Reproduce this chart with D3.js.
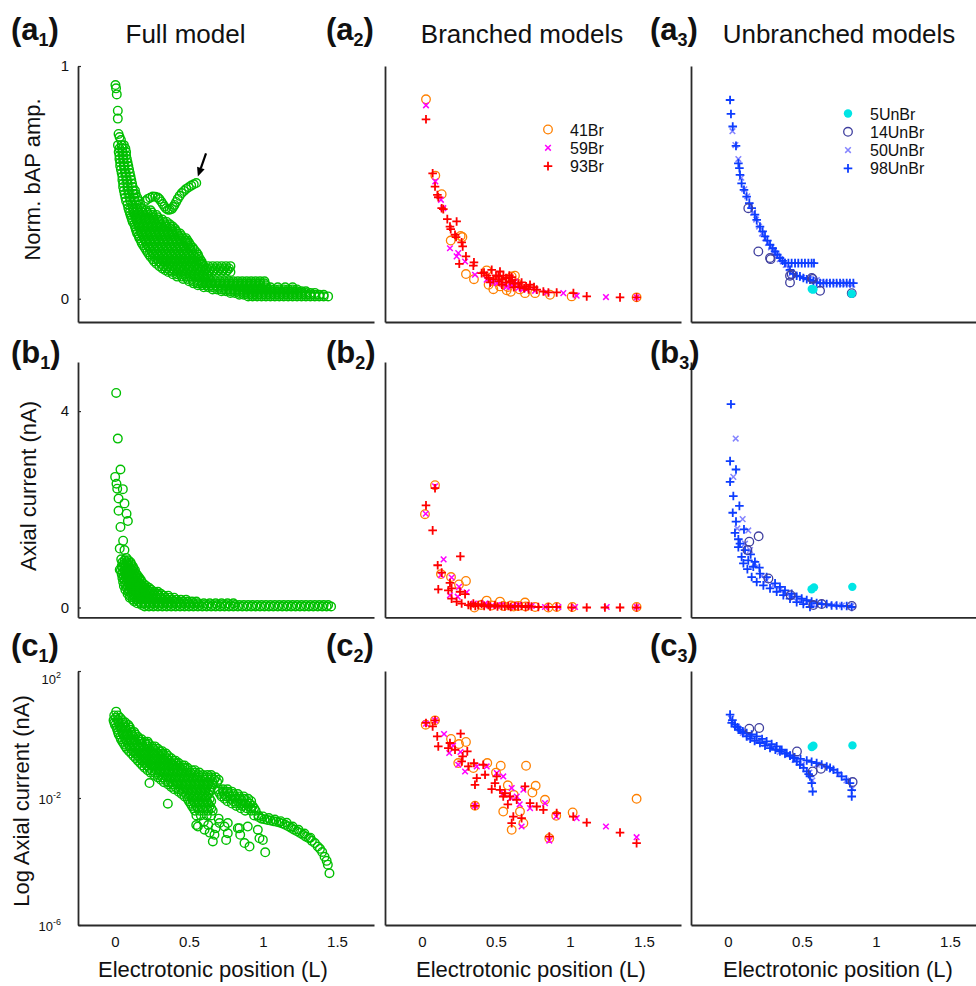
<!DOCTYPE html>
<html><head><meta charset="utf-8">
<script src="https://cdn.jsdelivr.net/npm/d3@7"></script>
<style>
body{margin:0;background:#fff}
text{font-family:"Liberation Sans",Arial,Helvetica,sans-serif;fill:#111}
.ax .domain{stroke:#2a2a2a;stroke-width:1.8}
.ax .tick line{stroke:#2a2a2a;stroke-width:1.2}
.ax .tick text{font-size:15px;fill:#111;font-family:"Liberation Sans",Arial,sans-serif}
</style></head>
<body><svg id="c" width="976" height="986"></svg>
<script>
// ---------------- DATA (electrotonic position L, value) ----------------
// Full model, normalized bAP amplitude
const fullAmpTop = [[.003,.918],[.007,.904],[.012,.878],[.019,.808],[.019,.774],[.024,.708],[.031,.695],[.04,.682]];
const fullAmpBranch = [[.205,.42],[.222,.429],[.238,.434],[.255,.439],[.272,.438],[.289,.435],[.3,.428],[.312,.418],[.323,.407],[.334,.396],[.345,.388],[.357,.382],[.37,.382],[.384,.386],[.393,.394],[.402,.403],[.413,.416],[.424,.429],[.437,.442],[.451,.454],[.466,.463],[.481,.472],[.498,.479],[.515,.486],[.532,.492],[.549,.497]];
// rows: [amplitude, list of L]
const fullAmpRows = [
 [.66,[.02,.045,.06]],[.645,[.03,.05,.07]],[.63,[.025,.05,.075]],[.615,[.03,.055,.075]],[.60,[.03,.055,.08]],
 [.585,[.035,.06,.085]],[.57,[.035,.06,.09]],[.555,[.04,.065,.095]],[.54,[.045,.07,.1]],[.525,[.05,.075,.105]],
 [.51,[.05,.08,.11]],[.495,[.055,.085,.115]],[.48,[.055,.085,.12]],[.465,[.06,.09,.12,.135]],
 [.45,[.065,.095,.125,.14]],[.435,[.07,.1,.13,.15]],[.42,[.075,.105,.135,.16]],[.405,[.085,.115,.145,.17]],
 [.39,[.09,.12,.15,.18]],[.38,[.095,.125,.155,.185,.21,.24]],[.37,[.1,.13,.16,.19,.22,.25]],
 [.36,[.105,.135,.165,.195,.225,.255,.28]],[.35,[.11,.14,.17,.2,.23,.26,.29]],
 [.34,[.115,.145,.175,.205,.235,.265,.295,.32]],[.33,[.12,.15,.18,.21,.24,.27,.3,.33,.35]],
 [.32,[.13,.16,.19,.22,.25,.28,.31,.34,.37]],[.31,[.135,.165,.195,.225,.255,.285,.315,.345,.375,.39]],
 [.30,[.14,.17,.2,.23,.26,.29,.32,.35,.38,.405]],[.29,[.145,.175,.205,.235,.265,.295,.325,.355,.385,.415]],
 [.28,[.15,.18,.21,.24,.27,.3,.33,.36,.39,.42,.44]],[.27,[.16,.19,.22,.25,.28,.31,.34,.37,.4,.43,.45]],
 [.26,[.165,.195,.225,.255,.285,.315,.345,.375,.405,.435,.46,.48]],
 [.25,[.175,.205,.235,.265,.295,.325,.355,.385,.415,.445,.475,.49]],
 [.24,[.18,.21,.24,.27,.3,.33,.36,.39,.42,.45,.48,.5]],
 [.23,[.19,.22,.25,.28,.31,.34,.37,.4,.43,.46,.49,.51]],
 [.22,[.2,.23,.26,.29,.32,.35,.38,.41,.44,.47,.5,.525]],
 [.21,[.21,.24,.27,.3,.33,.36,.39,.42,.45,.48,.51,.535]],
 [.20,[.22,.25,.28,.31,.34,.37,.4,.43,.46,.49,.52,.55]],
 [.19,[.23,.26,.29,.32,.35,.38,.41,.44,.47,.5,.53,.56]],
 [.18,[.24,.27,.3,.33,.36,.39,.42,.45,.48,.51,.54,.565]],
 [.17,[.255,.285,.315,.345,.375,.405,.435,.465,.495,.525,.555,.575]],
 [.16,[.265,.295,.325,.355,.385,.415,.445,.475,.505,.535,.565,.585]],
 [.15,[.28,.31,.34,.37,.4,.43,.46,.49,.52,.55,.58,.59]],
 [.14,[.3,.33,.36,.39,.42,.45,.48,.51,.54,.57,.6,.63,.66,.69,.72,.75,.78]],
 [.13,[.32,.35,.38,.41,.44,.47,.5,.53,.56,.59,.62,.65,.68,.71,.74,.77]],
 [.122,[.34,.37,.4,.43,.46,.49,.52,.55,.58,.61,.64,.67,.7,.73,.76]],
 [.115,[.36,.39,.42,.45,.48,.51,.54,.57,.6,.63,.66,.69,.72,.75,.78]],
 [.105,[.39,.42,.45,.48,.51,.54,.57,.6,.62]],
 [.095,[.42,.45,.48,.51,.54,.57,.6,.63]],
 [.085,[.46,.49,.52,.55,.58,.61,.64]],
 [.075,[.5,.53,.56,.59,.62,.65,.68,.71,.74,.77,.8,.83,.86,.89,.92,.95,.98,1.01]],
 [.066,[.53,.56,.59,.62,.65,.68,.71,.74,.77,.8,.83,.86,.89,.92,.95,.98,1.01]],
 [.058,[.56,.59,.62,.65,.68,.71,.74,.77,.8,.83,.86,.89,.92,.95,.98,1.02]],
 [.049,[.6,.63,.66,.69,.72,.75,.78,.81,.84,.87,.9,.93,.96,.99,1.02,1.05,1.1,1.15,1.2]],
 [.04,[.66,.69,.72,.75,.78,.81,.84,.87,.9,.93,.96,.99,1.02,1.05,1.08,1.11,1.14,1.17,1.2,1.23]],
 [.032,[.72,.75,.78,.81,.84,.87,.9,.93,.96,.99,1.02,1.05,1.08,1.11,1.14,1.17,1.2,1.23,1.26,1.29]],
 [.025,[.78,.81,.84,.87,.9,.93,.96,.99,1.02,1.05,1.08,1.11,1.14,1.17,1.2,1.23,1.26,1.29,1.32,1.35]],
 [.017,[.84,.87,.9,.93,.96,.99,1.02,1.05,1.08,1.11,1.14,1.17,1.2,1.23,1.26,1.29,1.32,1.35,1.38,1.41]],
 [.01,[.9,.93,.96,.99,1.02,1.05,1.08,1.11,1.14,1.17,1.2,1.23,1.26,1.29,1.32,1.35,1.38,1.41,1.44]]
];
const arrowFrom = [.615,.625], arrowTo = [.56,.525];

// Full model, axial current (nA)
const fullIaxTop = [[.008,4.37],[.019,3.44],[.037,2.81],[.001,2.66],[.01,2.52],[.015,2.42],[.053,2.41],[.024,2.22],[.064,2.12],[.024,1.97],[.078,1.91],[.087,1.76],[.037,1.64],[.055,1.36],[.032,1.2],[.064,1.17],[.042,.98],[.076,1.01],[.032,.77],[.087,.86]];
const fullIaxRows = [
 [.96,[.065,.09]],[.92,[.05,.08,.105]],[.88,[.06,.085,.11]],[.84,[.045,.07,.095,.12]],[.8,[.055,.08,.105,.125]],
 [.76,[.04,.065,.09,.115,.135]],[.72,[.055,.08,.105,.13]],[.68,[.045,.07,.095,.12,.145]],
 [.64,[.06,.085,.11,.135,.155]],[.6,[.05,.075,.1,.125,.15,.165]],[.56,[.065,.09,.115,.14,.165,.175]],
 [.52,[.055,.08,.105,.13,.155,.18]],[.48,[.07,.095,.12,.145,.17,.195]],[.44,[.06,.085,.11,.135,.16,.185,.21]],
 [.4,[.08,.105,.13,.155,.18,.205,.23]],[.36,[.07,.095,.12,.145,.17,.195,.22,.245]],
 [.32,[.09,.115,.14,.165,.19,.215,.24,.265,.29]],[.28,[.085,.11,.135,.16,.185,.21,.235,.26,.285,.31]],
 [.24,[.1,.125,.15,.175,.2,.225,.25,.275,.3,.33,.36]],[.2,[.1,.13,.16,.19,.22,.25,.28,.31,.34,.37,.4]],
 [.16,[.12,.145,.175,.205,.235,.265,.295,.325,.355,.385,.415,.445,.48]],
 [.12,[.13,.16,.19,.22,.25,.28,.31,.34,.37,.4,.43,.46,.49,.52,.55]],
 [.085,[.15,.175,.2,.23,.26,.29,.32,.35,.38,.41,.44,.47,.5,.53,.56,.6,.64,.68,.72,.76,.8]],
 [.05,[.18,.21,.24,.27,.3,.33,.36,.39,.42,.45,.48,.51,.54,.57,.6,.63,.66,.69,.72,.75,.78,.81,.84,.87,.9,.93,.96,.99,1.02,1.05,1.08,1.11,1.14,1.17,1.2,1.23,1.26,1.29,1.32,1.35,1.38,1.41,1.44]],
 [.02,[.2,.23,.26,.29,.32,.35,.38,.41,.44,.47,.5,.53,.56,.59,.62,.65,.68,.71,.74,.77,.8,.83,.86,.89,.92,.95,.98,1.01,1.04,1.07,1.1,1.13,1.16,1.19,1.22,1.25,1.28,1.31,1.34,1.37,1.4,1.43,1.46]]
];

// Full model, axial current on log scale: [log10(nA), list of L]
const fullLogRows = [
 [.72,[.008]],[.6,[-.005,.02]],[.525,[.005,.035]],[.45,[-.01,.02,.05]],[.375,[-.005,.025,.055,.07]],
 [.3,[0,.03,.06,.09]],[.225,[.01,.04,.07,.1]],[.15,[.015,.045,.075,.105]],[.075,[.02,.05,.08,.11,.13]],
 [0,[.025,.055,.085,.115,.14]],[-.075,[.035,.065,.095,.125,.155]],[-.15,[.04,.07,.1,.13,.16,.18]],
 [-.225,[.05,.08,.11,.14,.17,.2,.22]],[-.3,[.06,.09,.12,.15,.18,.21,.23]],
 [-.375,[.07,.1,.13,.16,.19,.22,.25,.27]],[-.45,[.08,.11,.14,.17,.2,.23,.26,.29]],
 [-.525,[.095,.125,.155,.185,.215,.245,.275,.305,.32]],[-.6,[.11,.14,.17,.2,.23,.26,.29,.32,.345]],
 [-.675,[.125,.155,.185,.215,.245,.275,.305,.335,.36]],[-.75,[.14,.17,.2,.23,.26,.29,.32,.35,.38]],
 [-.825,[.155,.185,.215,.245,.275,.305,.335,.365,.395,.41]],[-.9,[.17,.2,.23,.26,.29,.32,.35,.38,.41,.43]],
 [-.975,[.185,.215,.245,.275,.305,.335,.365,.395,.425,.455,.47]],
 [-1.05,[.2,.23,.26,.29,.32,.35,.38,.41,.44,.47,.49]],
 [-1.125,[.22,.25,.28,.31,.34,.37,.4,.43,.46,.49,.52,.54]],
 [-1.2,[.24,.27,.3,.33,.36,.39,.42,.45,.48,.51,.54,.57]],
 [-1.275,[.265,.295,.325,.355,.385,.415,.445,.475,.505,.535,.565,.595,.625,.65]],
 [-1.35,[.29,.32,.35,.38,.41,.44,.47,.5,.53,.56,.59,.62,.65,.68]],
 [-1.425,[.31,.34,.37,.4,.43,.46,.49,.52,.55,.58,.61,.64,.67,.7]],
 [-1.5,[.33,.36,.39,.42,.45,.48,.51,.54,.57,.6,.63,.66,.69]],
 [-1.575,[.36,.39,.42,.45,.48,.51,.54,.57,.6,.63,.66]],
 [-1.65,[.38,.41,.44,.47,.5,.53,.56,.59,.62,.65]],
 [-1.725,[.4,.43,.46,.49,.52,.55,.58,.61,.64,.7,.73,.76]],
 [-1.8,[.43,.46,.49,.52,.55,.58,.61,.64,.7,.73,.76,.79]],
 [-1.875,[.45,.48,.51,.54,.57,.6,.63,.71,.74,.77,.8,.83]],
 [-1.95,[.47,.5,.53,.56,.59,.62,.72,.75,.78,.81,.84,.87]],
 [-2.025,[.49,.52,.55,.58,.61,.64,.74,.78,.81,.84,.87,.9]],
 [-2.1,[.5,.53,.56,.59,.62,.65,.76,.8,.83,.86,.89,.92]],
 [-2.175,[.51,.54,.57,.6,.63,.79,.82,.85,.88,.91]],
 [-2.25,[.52,.55,.58,.61,.64,.82,.86,.9,.93]],
 [-2.325,[.53,.56,.59,.62,.65,.85,.89,.92,.94]],
 [-2.4,[.54,.57,.6,.63,.66,.88,.92,.95]],
 [-2.55,[.55,.58,.62,.65,.94,.97]]
];
const fullLogTail = [[.97,-2.6],[.99,-2.65],[1.01,-2.67],[1.03,-2.69],[1.05,-2.71],[1.07,-2.73],[1.09,-2.75],[1.11,-2.77],[1.13,-2.8],[1.15,-2.84],[1.17,-2.89],[1.19,-2.94],[1.21,-3],[1.23,-3.05],[1.25,-3.1],[1.27,-3.16],[1.29,-3.22],[1.31,-3.27],[1.33,-3.35],[1.35,-3.42],[1.37,-3.53],[1.385,-3.6],[1.4,-3.7],[1.416,-3.85],[1.43,-3.98],[1.438,-4.1],[1.449,-4.37],[1,-2.58],[1.04,-2.63],[1.08,-2.68],[1.12,-2.73],[1.16,-2.78],[1.2,-2.9],[1.24,-3],[1.28,-3.12],[1.32,-3.25]];
const fullLogScatter = [[.233,-1.53],[.357,-2.18],[.549,-2.85],[.56,-2.9],[.605,-3],[.64,-3.09],[.672,-3.16],[.661,-3.37],[.706,-2.79],[.751,-3.32],[.762,-3.11],[.74,-2.9],[.762,-2.79],[.83,-2.95],[.841,-2.95],[.846,-3.16],[.875,-3.42],[.909,-3.53],[.897,-2.9],[.965,-3],[.976,-3.27],[.999,-3.32],[1.015,-3.71],[.6,-2.75],[.63,-2.85],[.68,-2.95],[.7,-2.65]];

// Branched models
const br41Amp = [[.027,.857],[.09,.529],[.133,.449],[.261,.27],[.273,.265],[.194,.25],[.297,.106],[.351,.084],[.437,.122],[.482,.041],[.527,.053],[.572,.036],[.606,.096],[.628,.099],[.696,.024],[.764,.024],[.865,.017],[1.011,.01],[1.45,.006],[.505,.074],[.64,.067],[.45,.06],[.54,.07],[.58,.05],[.6,.03],[.66,.04]];
const br59Amp = [[.027,.831],[.09,.504],[.128,.425],[.144,.389],[.189,.217],[.245,.196],[.234,.182],[.291,.16],[.358,.103],[.437,.082],[.505,.067],[.55,.06],[.606,.053],[.628,.074],[.651,.046],[.707,.039],[.764,.034],[.842,.027],[.955,.024],[1.045,.013],[1.243,.007],[1.45,.006],[.48,.07],[.53,.08],[.57,.05],[.6,.06],[.68,.04]];
const br93Amp = [[.027,.771],[.072,.539],[.088,.482],[.104,.446],[.11,.436],[.133,.389],[.144,.385],[.171,.342],[.234,.332],[.189,.31],[.194,.299],[.223,.275],[.23,.265],[.268,.242],[.275,.225],[.297,.182],[.252,.15],[.351,.156],[.347,.142],[.403,.11],[.419,.113],[.437,.099],[.471,.124],[.482,.084],[.527,.117],[.516,.096],[.538,.082],[.55,.099],[.568,.089],[.595,.074],[.606,.093],[.628,.067],[.651,.064],[.673,.07],[.703,.053],[.73,.06],[.757,.05],[.775,.039],[.82,.031],[.854,.027],[.91,.027],[1.023,.024],[1.113,.01],[1.338,.006],[1.45,.006],[.45,.09],[.46,.07],[.5,.1],[.52,.075],[.54,.06],[.57,.07],[.59,.1],[.61,.08],[.62,.05],[.66,.05],[.69,.045],[.72,.04]];
const br41Iax = [[.088,2.49],[.02,1.9],[.128,.68],[.196,.62],[.25,.47],[.297,.54],[.354,0],[.437,.14],[.527,.12],[.696,.1],[.764,.01],[.854,0],[.91,.01],[1.016,.01],[1.45,.01],[.6,.04],[.62,.02],[.4,.05],[.47,.04],[.55,.03],[.65,.03],[.7,.02]];
const br59Iax = [[.088,2.47],[.025,1.91],[.146,.98],[.128,.66],[.2,.61],[.25,.42],[.302,.31],[.189,.25],[.241,.22],[.426,.08],[.538,.05],[.651,.05],[.741,.03],[.831,.01],[.921,.01],[1.034,.01],[1.248,.01],[1.45,.01],[.35,.08],[.45,.04],[.5,.03],[.6,.02]];
const br93Iax = [[.088,2.43],[.027,2.08],[.072,1.57],[.259,1.04],[.106,.86],[.133,.71],[.11,.37],[.189,.5],[.2,.39],[.178,.35],[.257,.32],[.291,.27],[.2,.18],[.234,.12],[.268,.08],[.313,.05],[.347,.08],[.403,.07],[.448,.05],[.493,.05],[.538,.03],[.583,.03],[.628,.03],[.673,.03],[.718,.03],[.786,.01],[.854,.01],[.91,.01],[1.011,0],[1.113,0],[1.236,0],[1.338,0],[1.45,0],[.33,.04],[.36,.03],[.38,.05],[.42,.03],[.46,.02],[.51,.02],[.56,.02],[.6,.01],[.65,.02],[.7,.01],[.74,.02]];
// log10(nA)
const br41Log = [[.025,.309],[.088,.445],[.196,-.142],[.297,-.237],[.245,-.899],[.358,-2.246],[.441,-.899],[.532,-.984],[.703,-.984],[.768,-1.615],[.746,-1.826],[.831,-2.057],[.549,-2.426],[.606,-3.003],[.685,-2.792],[.662,-2.426],[.86,-3.265],[1.018,-2.457],[.907,-2.56],[1.45,-2.025],[.347,-1.057],[.5,-1.2],[.58,-1.6],[.62,-1.9],[.25,-.3]];
const br59Log = [[.027,.341],[.088,.445],[.149,.016],[.184,-.584],[.245,-.953],[.291,-1.164],[.37,-1.006],[.437,-1.006],[.505,-1.215],[.549,-1.32],[.606,-1.688],[.64,-1.953],[.673,-2.899],[.685,-1.741],[.73,-2.319],[.831,-2.161],[.86,-3.34],[.907,-2.584],[1.045,-2.634],[1.243,-2.899],[1.45,-3.234],[.358,-2.246],[.21,-.35],[.26,-.55],[.55,-1.85],[.6,-2],[.66,-2.2]];
const br93Log = [[.027,.363],[.072,.256],[.103,-.058],[.11,-.375],[.189,-.268],[.261,.025],[.178,-.426],[.223,-.48],[.275,-.69],[.306,-.533],[.268,-.849],[.313,-1.006],[.351,-.899],[.414,-.953],[.37,-1.372],[.358,-1.584],[.426,-1.268],[.493,-1.53],[.505,-1.32],[.471,-1.719],[.527,-1.741],[.549,-1.953],[.595,-1.953],[.64,-2.057],[.617,-2.584],[.673,-2.634],[.606,-2.792],[.73,-2.161],[.775,-2.268],[.82,-2.372],[.91,-2.476],[1.022,-2.584],[1.113,-2.773],[1.338,-3.088],[1.45,-3.423],[.86,-3.214],[.696,-1.637],[.088,.445],[.358,-2.246],[.56,-1.85],[.58,-2.2]];

// Unbranched models
const ub5Amp = [[.566,.042],[.572,.04],[.577,.04],[.836,.021]];
const ub14Amp = [[.137,.389],[.205,.203],[.284,.175],[.288,.17],[.419,.099],[.419,.07],[.43,.105],[.566,.089],[.572,.085],[.622,.034],[.836,.024]];
const ub50Amp = [[.03,.72],[.05,.66],[.07,.6],[.09,.52],[.11,.47],[.13,.44],[.15,.4],[.17,.37],[.19,.34],[.21,.31],[.23,.28],[.25,.26],[.27,.24],[.29,.22],[.31,.2],[.33,.185],[.35,.17],[.37,.16],[.39,.145],[.41,.13],[.43,.11],[.45,.1],[.5,.09],[.55,.085],[.6,.08],[.65,.07],[.7,.068],[.75,.066],[.8,.065],[.84,.06]];
const ub98Amp = [[.014,.854],[.02,.794],[.032,.74],[.054,.657],[.07,.582],[.077,.561],[.081,.532],[.092,.496],[.108,.468],[.126,.439],[.144,.411],[.16,.389],[.182,.361],[.194,.339],[.216,.31],[.234,.289],[.25,.268],[.266,.25],[.284,.232],[.302,.217],[.318,.203],[.333,.189],[.351,.175],[.369,.163],[.385,.153],[.408,.153],[.43,.153],[.453,.153],[.475,.153],[.498,.153],[.52,.153],[.543,.153],[.565,.153],[.581,.153],[.419,.124],[.441,.107],[.464,.099],[.486,.096],[.509,.089],[.532,.084],[.554,.082],[.577,.077],[.599,.07],[.622,.067],[.645,.067],[.667,.067],[.689,.067],[.712,.067],[.734,.067],[.757,.067],[.779,.067],[.802,.067],[.824,.067],[.847,.067]];
const ub5Iax = [[.565,.37],[.581,.41],[.84,.42]];
const ub14Iax = [[.144,1.34],[.207,1.45],[.131,1.17],[.273,.59],[.423,.25],[.577,.05],[.633,.07],[.836,.03]];
const ub50Iax = [[.052,3.44],[.036,2.66],[.099,1.8],[.063,1.61],[.149,1.17],[.115,1.3],[.228,.64],[.306,.45],[.396,.28],[.486,.15],[.577,.05],[.712,.05],[.836,.03],[.137,1.57],[.18,.9],[.26,.55],[.35,.36],[.44,.2],[.53,.1],[.65,.06],[.77,.04]];
const ub98Iax = [[.02,4.14],[.014,2.98],[.054,2.81],[.014,2.56],[.036,2.27],[.077,2.07],[.032,1.93],[.054,1.75],[.108,1.59],[.047,1.52],[.07,1.39],[.07,1.23],[.153,1.08],[.092,1.03],[.182,.93],[.104,.9],[.212,.81],[.131,.78],[.16,.62],[.194,.52],[.239,.45],[.284,.39],[.329,.32],[.374,.25],[.419,.18],[.464,.11],[.509,.07],[.554,.01],[.261,.62],[.318,.49],[.385,.35],[.464,.22],[.532,.15],[.599,.09],[.667,.07],[.734,.04],[.802,.03],[.836,.01],[.081,1.3],[.115,1.17],[.137,.96],[.171,.83],[.216,.69],[.351,.42],[.43,.28],[.498,.18],[.565,.12],[.633,.07],[.7,.04],[.768,.03]];
// log10(nA)
const ub5Log = [[.566,-.394],[.577,-.353],[.841,-.343]];
const ub14Log = [[.144,.183],[.211,.205],[.466,-.533],[.572,-1.164],[.628,-1.079],[.842,-1.498]];
const ub50Log = [[.02,.5],[.06,.25],[.1,.05],[.15,-.1],[.2,-.2],[.25,-.3],[.3,-.42],[.35,-.55],[.4,-.65],[.45,-.8],[.5,-.95],[.55,-1.2],[.57,-1.45],[.6,-.95],[.65,-1],[.7,-1.1],[.75,-1.25],[.8,-1.45],[.84,-1.7]];
const ub98Log = [[.014,.625],[.03,.45],[.047,.309],[.064,.23],[.081,.151],[.1,.05],[.126,-.06],[.15,-.13],[.18,-.2],[.216,-.268],[.25,-.35],[.284,-.426],[.32,-.48],[.351,-.533],[.385,-.6],[.419,-.669],[.45,-.72],[.49,-.77],[.532,-.817],[.565,-.86],[.599,-.899],[.633,-.95],[.667,-1.006],[.69,-1.05],[.712,-1.11],[.74,-1.2],[.768,-1.32],[.8,-1.42],[.824,-1.53],[.836,-1.75],[.836,-1.953],
 [.025,.363],[.047,.25],[.07,.151],[.1,.1],[.126,.047],[.16,0],[.194,-.06],[.23,-.14],[.261,-.218],[.295,-.3],[.329,-.375],[.363,-.48],[.397,-.584],[.42,-.66],[.441,-.743],[.465,-.85],[.486,-.953],[.51,-1.05],[.532,-1.164],[.545,-1.25],[.554,-1.32],[.566,-1.53],[.572,-1.795]];

const xTicks = [0, 0.5, 1, 1.5];
const yTicksA = [0, 1], yTicksB = [0, 4], yTicksC = [-6, -2, 2];
const colTitles = ["Full model", "Branched models", "Unbranched models"];
const rowYLabels = ["Norm. bAP amp.", "Axial current (nA)", "Log Axial current (nA)"];
const xLabel = "Electrotonic position (L)";
const brNames = ["41Br", "59Br", "93Br"];
const ubNames = ["5UnBr", "14UnBr", "50UnBr", "98UnBr"];

// ---------------- DRAWING ----------------
const svg = d3.select("#c");
svg.append("rect").attr("width",976).attr("height",986).attr("fill","#fff");
const COL = {green:"#00bf00", o:"#ff8000", m:"#ff00ff", r:"#ff0000", cy:"#00e5e5", dk:"#3f3f9f", lt:"#8585ff", bl:"#0d3dff"};
const colX = [78, 385, 691], W = 296;
const xs = colX.map(l => d3.scaleLinear().domain([-0.25, 1.75]).range([l, l + W]));
const yA = d3.scaleLinear().domain([-0.1, 1]).range([322, 66]);
const yB = d3.scaleLinear().domain([-0.2, 5]).range([617.3, 362]);
const yC = d3.scaleLog().domain([1e-6, 1e2]).range([925, 671]);
const ys = [yA, yB, yC];
const expand = rows => rows.flatMap(([v, Ls]) => Ls.map(L => [L, v]));
const unlog = pts => pts.map(([L, lg]) => [L, Math.pow(10, lg)]);

function mark(g, pts, x, y, kind, color, sw) {
  const s = g.append("g").selectAll(null).data(pts).enter();
  if (kind === "o") s.append("circle").attr("cx", d => x(d[0])).attr("cy", d => y(d[1])).attr("r", 4.3)
      .attr("fill", "none").attr("stroke", color).attr("stroke-width", sw || 1.3);
  else if (kind === "f") s.append("circle").attr("cx", d => x(d[0])).attr("cy", d => y(d[1])).attr("r", 4.2)
      .attr("fill", color);
  else {
    const p = kind === "x" ? "M-2.8,-2.8L2.8,2.8M-2.8,2.8L2.8,-2.8" : "M-4.3,0H4.3M0,-4.3V4.3";
    s.append("path").attr("transform", d => `translate(${x(d[0])},${y(d[1])})`).attr("d", p)
      .attr("fill", "none").attr("stroke", color).attr("stroke-width", kind === "x" ? 1.5 : 1.8);
  }
}

// axes
for (let r = 0; r < 3; r++) {
  for (let c = 0; c < 3; c++) {
    const y = ys[r], x = xs[c];
    const bottom = y.range()[0];
    svg.append("g").attr("class", "ax").attr("transform", `translate(0,${bottom})`)
      .call(d3.axisBottom(x).tickValues(r === 2 ? xTicks : []).tickSize(0).tickSizeOuter(0)
        .tickPadding(11).tickFormat(d3.format("")));
    let yax = d3.axisLeft(y).tickSizeInner(-3).tickSizeOuter(0).tickPadding(9);
    if (c !== 0) yax = yax.tickValues([]);
    else if (r === 0) yax = yax.tickValues(yTicksA).tickFormat(d3.format("d"));
    else if (r === 1) yax = yax.tickValues(yTicksB).tickFormat(d3.format("d"));
    else yax = yax.tickValues(yTicksC.map(e => Math.pow(10, e))).tickFormat(() => "");
    svg.append("g").attr("class", "ax").attr("transform", `translate(${colX[c]},0)`).call(yax);
  }
}
// log tick labels with superscripts
yTicksC.forEach(e => {
  const t = svg.append("text").attr("x", 61).attr("y", yC(Math.pow(10, e)) + (e === 2 ? 13 : 6))
    .attr("text-anchor", "end").attr("font-size", 13);
  t.append("tspan").text("10");
  t.append("tspan").attr("dy", -6).attr("font-size", 9).text(String(e));
});

// full model
mark(svg, fullAmpTop.concat(fullAmpBranch, expand(fullAmpRows)), xs[0], yA, "o", COL.green, 1.4);
mark(svg, fullIaxTop.concat(expand(fullIaxRows)), xs[0], yB, "o", COL.green, 1.4);
mark(svg, unlog(expand(fullLogRows).concat(fullLogTail, fullLogScatter)), xs[0], yC, "o", COL.green, 1.4);

// arrow
{
  const x0 = xs[0](arrowFrom[0]), y0 = yA(arrowFrom[1]), x1 = xs[0](arrowTo[0]), y1 = yA(arrowTo[1]);
  const dx = x1 - x0, dy = y1 - y0, len = Math.hypot(dx, dy), ux = dx / len, uy = dy / len;
  const hl = 9, hw = 4;
  const bx = x1 - ux * hl, by = y1 - uy * hl;
  svg.append("line").attr("x1", x0).attr("y1", y0).attr("x2", bx).attr("y2", by)
    .attr("stroke", "#000").attr("stroke-width", 2.2);
  svg.append("path").attr("d", `M${x1},${y1}L${bx - uy * hw},${by + ux * hw}L${bx + uy * hw},${by - ux * hw}Z`).attr("fill", "#000");
}

// branched
const brData = [[br41Amp, br41Iax, br41Log, "o", COL.o], [br59Amp, br59Iax, br59Log, "x", COL.m], [br93Amp, br93Iax, br93Log, "+", COL.r]];
brData.forEach(([a, b, l, k, col]) => {
  mark(svg, a, xs[1], yA, k, col);
  mark(svg, b, xs[1], yB, k, col);
  mark(svg, unlog(l), xs[1], yC, k, col);
});
// unbranched (50 drawn under 98)
const ubData = [[ub50Amp, ub50Iax, ub50Log, "x", COL.lt], [ub98Amp, ub98Iax, ub98Log, "+", COL.bl], [ub14Amp, ub14Iax, ub14Log, "o", COL.dk], [ub5Amp, ub5Iax, ub5Log, "f", COL.cy]];
ubData.forEach(([a, b, l, k, col]) => {
  mark(svg, a, xs[2], yA, k, col);
  mark(svg, b, xs[2], yB, k, col);
  mark(svg, unlog(l), xs[2], yC, k, col);
});

// legends
function legend(items, mx, tx, y0, dy) {
  items.forEach(([name, k, col], i) => {
    const yy = y0 + i * dy;
    const id = d3.scaleIdentity();
    mark(svg, [[mx, yy]], id, id, k, col);
    svg.append("text").attr("x", tx).attr("y", yy + 6).attr("font-size", 16).text(name);
  });
}
legend([[brNames[0], "o", COL.o], [brNames[1], "x", COL.m], [brNames[2], "+", COL.r]], 548, 570, 129.5, 18.3);
legend([[ubNames[0], "f", COL.cy], [ubNames[1], "o", COL.dk], [ubNames[2], "x", COL.lt], [ubNames[3], "+", COL.bl]], 848, 870, 113.5, 18.3);

// titles
[[185.5, 0], [522, 1], [839, 2]].forEach(([cx, i]) =>
  svg.append("text").attr("x", cx).attr("y", 43).attr("text-anchor", "middle").attr("font-size", 26).text(colTitles[i]));
// x labels
[213, 531, 838].forEach(cx =>
  svg.append("text").attr("x", cx).attr("y", 977).attr("text-anchor", "middle").attr("font-size", 22).text(xLabel));
// y labels
[[40, 179.5], [36, 486], [29, 801]].forEach(([bx, cy], i) =>
  svg.append("text").attr("transform", `translate(${bx},${cy}) rotate(-90)`).attr("text-anchor", "middle")
    .attr("font-size", 22).text(rowYLabels[i]));
// panel labels
const letters = ["a", "b", "c"], baseY = [40, 363, 656], labX = [11, 326, 650];
letters.forEach((L, r) => labX.forEach((lx, c) => {
  const t = svg.append("text").attr("x", lx).attr("y", baseY[r]).attr("font-size", 31).attr("font-weight", "bold");
  t.append("tspan").text("(" + L);
  t.append("tspan").attr("dy", 6).attr("font-size", 18).text(String(c + 1));
  t.append("tspan").attr("dy", -6).text(")");
}));
</script>
</body></html>
